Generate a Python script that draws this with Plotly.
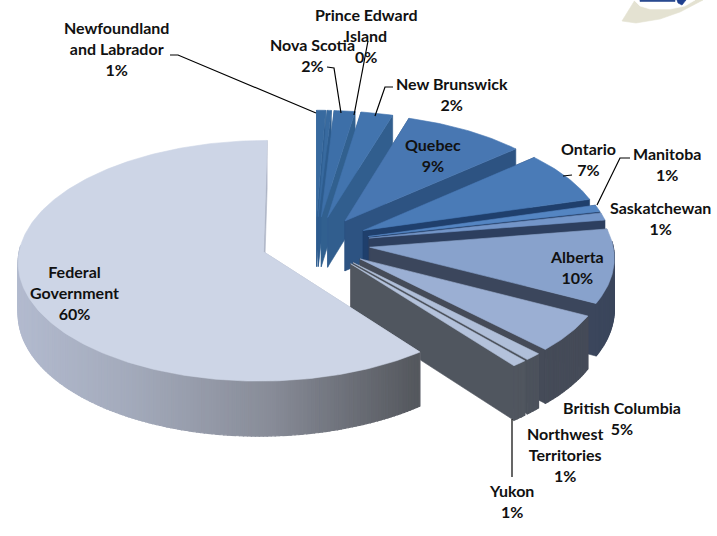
import math
import plotly.graph_objects as go

regions = ["Newfoundland and Labrador", "Prince Edward Island", "Nova Scotia", "New Brunswick",
           "Quebec", "Ontario", "Manitoba", "Saskatchewan", "Alberta", "British Columbia",
           "Northwest Territories", "Yukon", "Federal Government"]
shares = [0.65, 0.3, 1.5, 2.3, 8.8, 7.0, 0.9, 1.0, 10.0, 5.0, 1.0, 0.9, 60.35]
percent_labels = ["1%", "0%", "2%", "2%", "9%", "7%", "1%", "1%", "10%", "5%", "1%", "1%", "60%"]
top_colors = ["#386A9F", "#386A9F", "#3D6FA8", "#4274AE", "#4877B2", "#4A7BB7", "#5485C2", "#7395C8",
              "#88A2CC", "#9BAFD3", "#B0BFD9", "#B4C2DB", "#CDD5E6"]
wall_colors = ["#2D5C8E", "#2D5C8E", "#31608F", "#315E8E", "#2D5382", "#1F3F6C", "#24406A", "#2D3F5F",
               "#3B465C", "#454B58", "#4C525C", "#50565F", "#AEB5C6"]

# projection of the pie, in page pixels
OX, OY, RADIUS, TILT, PERSP, DEPTH, PULL = 315.5, 243.0, 243.0, 0.487, 0.075, 50.6, 0.225


def project(u, v, drop=0.0):
    s = 1.0 / (1.0 + PERSP * v)
    return OX + RADIUS * u * s, OY - RADIUS * TILT * v * s + drop * s


def federal_side(x):
    stops = [(20, (178, 186, 206)), (130, (163, 170, 187)), (270, (136, 140, 152)), (415, (85, 88, 94))]
    for (a, ca), (b, cb) in zip(stops, stops[1:]):
        if x <= b:
            t = max(0.0, (x - a) / (b - a))
            return "rgb(%d,%d,%d)" % tuple(round(p + (q - p) * t) for p, q in zip(ca, cb))
    return "rgb(85,88,94)"


fig = go.Figure()


def poly(points, color, width=0.6):
    xs = [p[0] for p in points] + [points[0][0]]
    ys = [p[1] for p in points] + [points[0][1]]
    fig.add_trace(go.Scatter(x=xs, y=ys, mode="lines", fill="toself", fillcolor=color,
                             line=dict(color=color, width=width), hoverinfo="skip", showlegend=False))


# corner logo, cropped by the page edge
logo_parts = [
    ([(635, 0), (622, 21), (636, 23), (660, 19), (680, 12), (703, 0)], "#E4E2D2"),
    ([(634, 0), (640, 6), (650, 9), (670, 9), (685, 6), (695, 0)], "#FFFFFF"),
    ([(640, 0), (675, 0), (675, 1.5), (640, 1.5)], "#2A4A90"),
    ([(677, 0), (686, 0), (682, 5), (678, 3)], "#1F3F8F"),
]
for pts, color in logo_parts:
    poly(pts, color)

total = sum(shares)
start = 0.0
for name, share, top, wall in zip(regions, shares, top_colors, wall_colors):
    a0 = start / total * 2 * math.pi
    a1 = (start + share) / total * 2 * math.pi
    start += share
    mid = (a0 + a1) / 2
    cu, cv = PULL * math.sin(mid), PULL * math.cos(mid)
    n = max(2, int((a1 - a0) / 0.015))
    arc = [(cu + math.sin(a0 + (a1 - a0) * i / n), cv + math.cos(a0 + (a1 - a0) * i / n)) for i in range(n + 1)]

    # cut walls
    for e in (arc[0], arc[-1]):
        poly([project(cu, cv), project(*e), project(*e, DEPTH), project(cu, cv, DEPTH)], wall)
    # rim, front half only
    for (u0, v0), (u1, v1) in zip(arc, arc[1:]):
        if (v0 + v1) / 2 - cv < 0.05:
            xm = project((u0 + u1) / 2, (v0 + v1) / 2)[0]
            color = federal_side(xm) if name == "Federal Government" else wall
            poly([project(u0, v0), project(u1, v1), project(u1, v1, DEPTH), project(u0, v0, DEPTH)], color, 1.2)
    # top face
    poly([project(cu, cv)] + [project(u, v) for u, v in arc], top)

# leader lines
leaders = [
    [(170, 55), (178, 55), (316, 113)],
    [(327, 67), (334, 68), (341, 113)],
    [(368, 41), (354, 115)],
    [(393, 87), (385, 87), (375, 116)],
    [(563, 176), (572, 175)],
    [(630, 158), (620, 158), (597, 205)],
    [(512, 419), (512, 477)],
]
for pts in leaders:
    fig.add_trace(go.Scatter(x=[p[0] for p in pts], y=[p[1] for p in pts], mode="lines",
                             line=dict(color="#000000", width=1.2), hoverinfo="skip", showlegend=False))

label_lines = [
    ["Newfoundland", "and Labrador"], ["Prince Edward", "Island"], ["Nova Scotia"], ["New Brunswick"],
    ["Quebec"], ["Ontario"], ["Manitoba"], ["Saskatchewan"], ["Alberta"], ["British Columbia"],
    ["Northwest", "Territories"], ["Yukon"], ["Federal", "Government"],
]
label_x = [116, 366, 312, 452, 433, 588, 667, 660, 577, 622, 565, 511, 74]
label_y = [48, 35, 55, 94, 155, 159, 164, 218, 267, 418, 454, 501, 292]
for lines, pct, x, y in zip(label_lines, percent_labels, label_x, label_y):
    fig.add_annotation(x=x, y=y, xref="x", yref="y", showarrow=False, align="center",
                       text="<br>".join(lines + [pct]),
                       font=dict(family="Lato", size=16, color="#111111", weight="bold"))

fig.update_layout(
    width=717, height=536, margin=dict(l=0, r=0, t=0, b=0),
    paper_bgcolor="#ffffff", plot_bgcolor="#ffffff", showlegend=False,
    xaxis=dict(range=[0, 717], visible=False, fixedrange=True),
    yaxis=dict(range=[536, 0], visible=False, fixedrange=True),
)
fig.write_html("out.html", post_script="document.body.style.margin='0';",
               config={"displayModeBar": False})
